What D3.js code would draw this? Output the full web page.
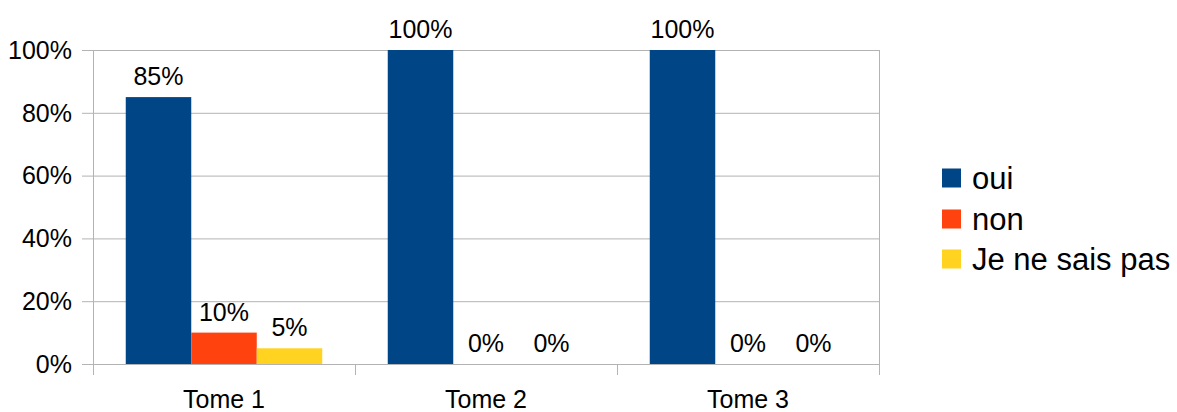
<!DOCTYPE html>
<html>
<head>
<meta charset="utf-8">
<script src="https://cdn.jsdelivr.net/npm/d3@7"></script>
<style>
  html, body { margin: 0; padding: 0; background: #fff; }
  svg { display: block; font-family: "Liberation Sans", Arial, sans-serif; }
</style>
</head>
<body>
<svg id="chart" width="1177" height="412"></svg>
<script>
// Survey answers per volume, share of respondents
const categories = ["Tome 1", "Tome 2", "Tome 3"];
const seriesNames = ["oui", "non", "Je ne sais pas"];
const oui = [0.85, 1.00, 1.00];
const non = [0.10, 0.00, 0.00];
const nsp = [0.05, 0.00, 0.00];
const yTicks = [0, 0.2, 0.4, 0.6, 0.8, 1.0];
const colors = ["#004586", "#ff420e", "#ffd320"];

const seriesValues = [oui, non, nsp];
const svg = d3.select("#chart");
const grid = "#b3b3b3";
const fs = 25;

const plot = { left: 93, right: 879, top: 50, bottom: 364 };

const x = d3.scaleBand().domain(categories).range([plot.left, plot.right]).padding(0);
const xs = d3.scaleBand().domain(seriesNames).range([0, x.bandwidth()])
  .paddingInner(0).paddingOuter(0.5);
const y = d3.scaleLinear().domain([0, 1]).range([plot.bottom, plot.top]);
const pct = d3.format(".0%");

// horizontal gridlines with short ticks left of the axis
svg.append("g").selectAll("line").data(yTicks).join("line")
  .attr("x1", plot.left - 11).attr("x2", plot.right)
  .attr("y1", d => y(d) + 0.5).attr("y2", d => y(d) + 0.5)
  .attr("stroke", grid).attr("stroke-width", 1);

// y tick labels
svg.append("g").selectAll("text").data(yTicks).join("text")
  .attr("x", 72).attr("y", d => y(d)).attr("dy", "0.35em")
  .attr("text-anchor", "end").attr("font-size", fs).attr("fill", "#000")
  .text(d => pct(d));

// left axis and right border
svg.append("line").attr("x1", plot.left + 0.5).attr("x2", plot.left + 0.5)
  .attr("y1", plot.top).attr("y2", plot.bottom).attr("stroke", grid);
svg.append("line").attr("x1", plot.right + 0.5).attr("x2", plot.right + 0.5)
  .attr("y1", plot.top).attr("y2", plot.bottom).attr("stroke", grid);

// category separators below the baseline
const seps = categories.map(c => x(c)).concat([x(categories[categories.length - 1]) + x.bandwidth()]);
svg.append("g").selectAll("line").data(seps).join("line")
  .attr("x1", d => Math.round(d) + 0.5).attr("x2", d => Math.round(d) + 0.5)
  .attr("y1", plot.bottom).attr("y2", plot.bottom + 11)
  .attr("stroke", grid);

// bars and value labels
const groups = svg.append("g").selectAll("g").data(categories).join("g")
  .attr("transform", c => `translate(${x(c)},0)`);

seriesNames.forEach((s, si) => {
  groups.append("rect")
    .attr("x", xs(s))
    .attr("width", xs.bandwidth())
    .attr("y", (c, ci) => y(seriesValues[si][ci]))
    .attr("height", (c, ci) => y(0) - y(seriesValues[si][ci]))
    .attr("fill", colors[si]);
  groups.append("text")
    .attr("x", xs(s) + xs.bandwidth() / 2)
    .attr("y", (c, ci) => y(seriesValues[si][ci]) - 12)
    .attr("text-anchor", "middle").attr("font-size", fs).attr("fill", "#000")
    .text((c, ci) => pct(seriesValues[si][ci]));
});

// category labels
svg.append("g").selectAll("text").data(categories).join("text")
  .attr("x", c => x(c) + x.bandwidth() / 2).attr("y", 408)
  .attr("text-anchor", "middle").attr("font-size", fs).attr("fill", "#000")
  .text(c => c);

// legend
const legend = svg.append("g").attr("transform", "translate(942,0)");
const rowY = [178, 219, 259];
seriesNames.forEach((s, i) => {
  legend.append("rect").attr("x", 0).attr("y", rowY[i] - 9.5)
    .attr("width", 19).attr("height", 19).attr("fill", colors[i]);
  legend.append("text").attr("x", 30).attr("y", rowY[i]).attr("dy", "0.35em")
    .attr("font-size", 31).attr("fill", "#000").text(s);
});
</script>
</body>
</html>
